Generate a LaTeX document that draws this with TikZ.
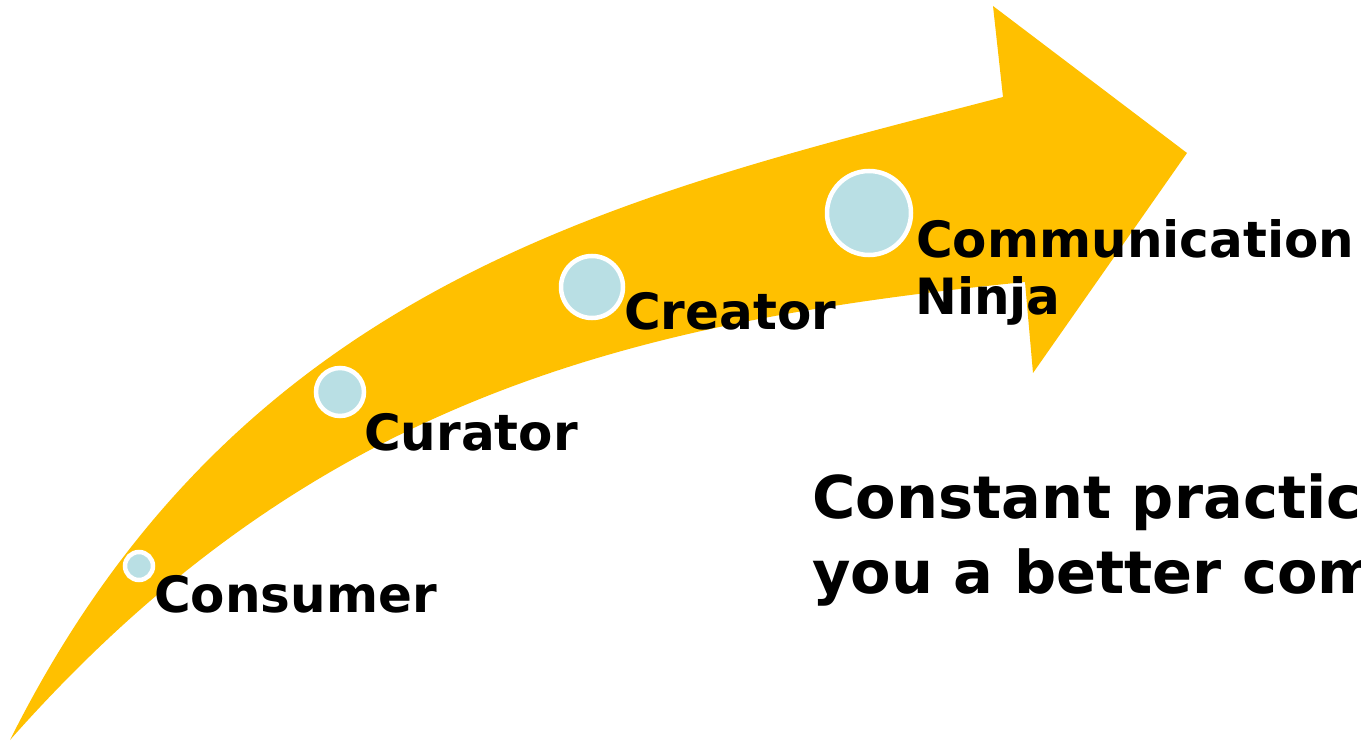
\documentclass[tikz,border=0pt]{standalone}
\usepackage{fontspec}
\setmainfont{DejaVu Sans}
\definecolor{arrowgold}{HTML}{FFC000}
\definecolor{dotblue}{HTML}{B9DFE4}
\begin{document}
\begin{tikzpicture}[x=1pt,y=-1pt,
  stage/.style={circle, fill=dotblue, draw=white, line width=4.5pt, inner sep=0pt},
  lbl/.style={anchor=base west, inner sep=0pt, font=\bfseries\fontsize{50}{57}\selectfont},
  big/.style={anchor=base west, inner sep=0pt, font=\bfseries\fontsize{59}{75}\selectfont}]
\useasboundingbox (0,0) rectangle (1361,743);
\clip (0,0) rectangle (1361,743);
% curved arrow
\fill[arrowgold] (10,740) .. controls (240,280) and (623,196) .. (1003,97)
  -- (993,6) -- (1187,153) -- (1033,373) -- (1025,282)
  .. controls (625,322) and (310,401) .. (10,740)
  -- cycle;
% stage dots
\node[stage, minimum size=28pt] (d1) at (139,566) {};
\node[stage, minimum size=48pt] (d2) at (340,392) {};
\node[stage, minimum size=62pt] (d3) at (592,287) {};
\node[stage, minimum size=84pt] (d4) at (869,213) {};
% labels
\node[lbl] (t1) at (154,612) {Consumer};
\node[lbl] (t2) at (364,450) {Curator};
\node[lbl] (t3) at (624,330) {Creator};
\node[lbl] (t4a) at (916,258) {Communication};
\node[lbl] (t4b) at (915,315) {Ninja};
\node[big] (m1) at (812,518) {Constant practice makes};
\node[big] (m2) at (812,593) {you a better communicator};
\end{tikzpicture}
\end{document}
